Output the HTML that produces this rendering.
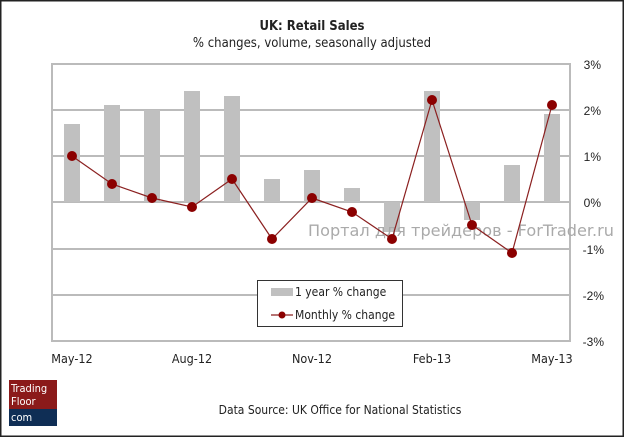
<!DOCTYPE html>
<html><head><meta charset="utf-8"><style>
body{margin:0;width:624px;height:437px;overflow:hidden;background:#fff;font-family:"DejaVu Sans Condensed","Liberation Sans",sans-serif;}
</style></head><body>
<svg width="624" height="437" xmlns="http://www.w3.org/2000/svg" style="position:absolute;left:0;top:0">
<rect x="0.5" y="0.5" width="623" height="436" fill="#fff" stroke="#222" stroke-width="2"/>
<text x="312" y="30" text-anchor="middle" font-size="13" font-weight="bold" fill="#222" font-family="DejaVu Sans Condensed, Liberation Sans, sans-serif">UK: Retail Sales</text>
<text x="312" y="47" text-anchor="middle" font-size="13" fill="#222" font-family="DejaVu Sans Condensed, Liberation Sans, sans-serif">% changes, volume, seasonally adjusted</text>
<g stroke="#bbb" stroke-width="2">
<line x1="52" y1="110" x2="570" y2="110"/><line x1="52" y1="156" x2="570" y2="156"/>
<line x1="52" y1="202" x2="570" y2="202"/><line x1="52" y1="249" x2="570" y2="249"/>
<line x1="52" y1="295" x2="570" y2="295"/>
</g>
<rect x="52" y="64" width="518" height="277" fill="none" stroke="#bbb" stroke-width="2"/>
<g fill="#c0c0c0">
<rect x="64" y="124" width="16" height="78"/><rect x="104" y="105" width="16" height="97"/>
<rect x="144" y="110" width="16" height="92"/><rect x="184" y="91" width="16" height="111"/>
<rect x="224" y="96" width="16" height="106"/><rect x="264" y="179" width="16" height="23"/>
<rect x="304" y="170" width="16" height="32"/><rect x="344" y="188" width="16" height="14"/>
<rect x="384" y="202" width="16" height="30"/><rect x="424" y="91" width="16" height="111"/>
<rect x="464" y="202" width="16" height="18"/><rect x="504" y="165" width="16" height="37"/>
<rect x="544" y="114" width="16" height="88"/>
</g>
<text x="308" y="236" font-size="16" fill="#aaa" textLength="306" lengthAdjust="spacingAndGlyphs" font-family="DejaVu Sans, sans-serif">Портал для трейдеров - ForTrader.ru</text>
<polyline fill="none" stroke="#8b2020" stroke-width="1.2" points="72,156 112,184 152,198 192,207 232,179 272,239 312,198 352,212 392,239 432,100 472,225 512,253 552,105"/>
<g fill="#8b0000">
<circle cx="72" cy="156" r="5"/><circle cx="112" cy="184" r="5"/><circle cx="152" cy="198" r="5"/>
<circle cx="192" cy="207" r="5"/><circle cx="232" cy="179" r="5"/><circle cx="272" cy="239" r="5"/>
<circle cx="312" cy="198" r="5"/><circle cx="352" cy="212" r="5"/><circle cx="392" cy="239" r="5"/>
<circle cx="432" cy="100" r="5"/><circle cx="472" cy="225" r="5"/><circle cx="512" cy="253" r="5"/>
<circle cx="552" cy="105" r="5"/>
</g>
<rect x="257.5" y="280.5" width="145" height="46" fill="#fff" stroke="#333" stroke-width="1"/>
<rect x="271" y="288" width="22" height="8" fill="#c0c0c0"/>
<text x="295" y="296" font-size="12" fill="#222">1 year % change</text>
<line x1="271" y1="315" x2="293" y2="315" stroke="#8b2020" stroke-width="1.2"/>
<circle cx="282" cy="315" r="3.5" fill="#8b0000"/>
<text x="295" y="319" font-size="12" fill="#222">Monthly % change</text>
<g font-size="12" fill="#222" font-family="Liberation Sans, sans-serif" text-anchor="end">
<text x="601" y="69">3%</text><text x="601" y="115">2%</text><text x="601" y="161">1%</text>
<text x="601" y="207">0%</text><text x="604" y="254">-1%</text><text x="604" y="300">-2%</text><text x="604" y="346">-3%</text>
</g>
<g font-size="12.5" fill="#222" text-anchor="middle">
<text x="72" y="363">May-12</text><text x="192" y="363">Aug-12</text><text x="312" y="363">Nov-12</text>
<text x="432" y="363">Feb-13</text><text x="552" y="363">May-13</text>
</g>
<rect x="9" y="380" width="48" height="29" fill="#8b1a1a"/>
<rect x="9" y="409" width="48" height="17" fill="#0f2e55"/>
<text x="11" y="392" font-size="11" fill="#fff">Trading</text>
<text x="11" y="405" font-size="11" fill="#fff">Floor</text>
<text x="11" y="421" font-size="11" fill="#fff">com</text>
<text x="340" y="414" text-anchor="middle" font-size="12" fill="#222">Data Source: UK Office for National Statistics</text>
</svg>
</body></html>
